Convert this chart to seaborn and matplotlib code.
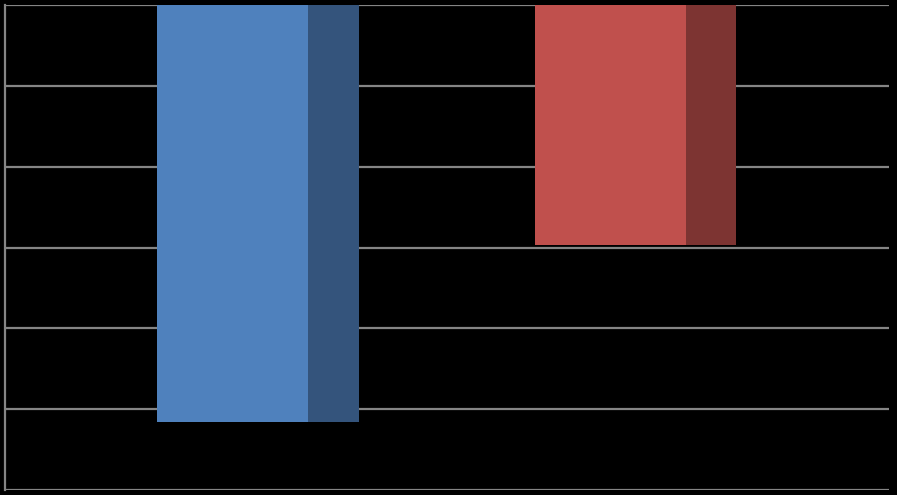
import matplotlib
matplotlib.use("Agg")
import matplotlib.pyplot as plt
import seaborn as sns
import pandas as pd

# Data (axis runs downward from 0 at the top)
categories = ["A", "B"]
values = [5.16, 2.97]
front_colors = ["#4F81BD", "#C0504D"]
side_colors = ["#34547C", "#7D3432"]

df = pd.DataFrame({"category": categories, "value": values})

sns.set_style("dark")
fig = plt.figure(figsize=(8.97, 4.95), dpi=100, facecolor="black")
ax = fig.add_axes([5 / 897, 5 / 495, 884 / 897, 485 / 495])
ax.set_facecolor("black")

front_w = 0.4
side_w = 0.135

sns.barplot(data=df, x="category", y="value", hue="category",
            palette=front_colors, width=front_w, saturation=1,
            legend=False, ax=ax, zorder=3, linewidth=0)

# darker side face of the 3D look
for i, (v, c) in enumerate(zip(values, side_colors)):
    ax.bar(i + front_w / 2 + side_w / 2, v, width=side_w, color=c,
           linewidth=0, zorder=3)

ax.set_ylim(6, 0)
ax.set_xlim(-0.6026, 1.739)
ax.set_yticks([0, 1, 2, 3, 4, 5, 6])
ax.yaxis.grid(True, color="#858585", linewidth=1.6, zorder=1)
ax.xaxis.grid(False)
ax.set_axisbelow(True)

ax.set_xticks([])
ax.set_yticklabels([])
ax.tick_params(left=False, bottom=False)
ax.set_xlabel("")
ax.set_ylabel("")

for side in ["top", "right", "bottom"]:
    ax.spines[side].set_visible(False)
ax.spines["left"].set_color("#858585")
ax.spines["left"].set_linewidth(1.6)

fig.savefig("out.png", dpi=100, facecolor="black")
